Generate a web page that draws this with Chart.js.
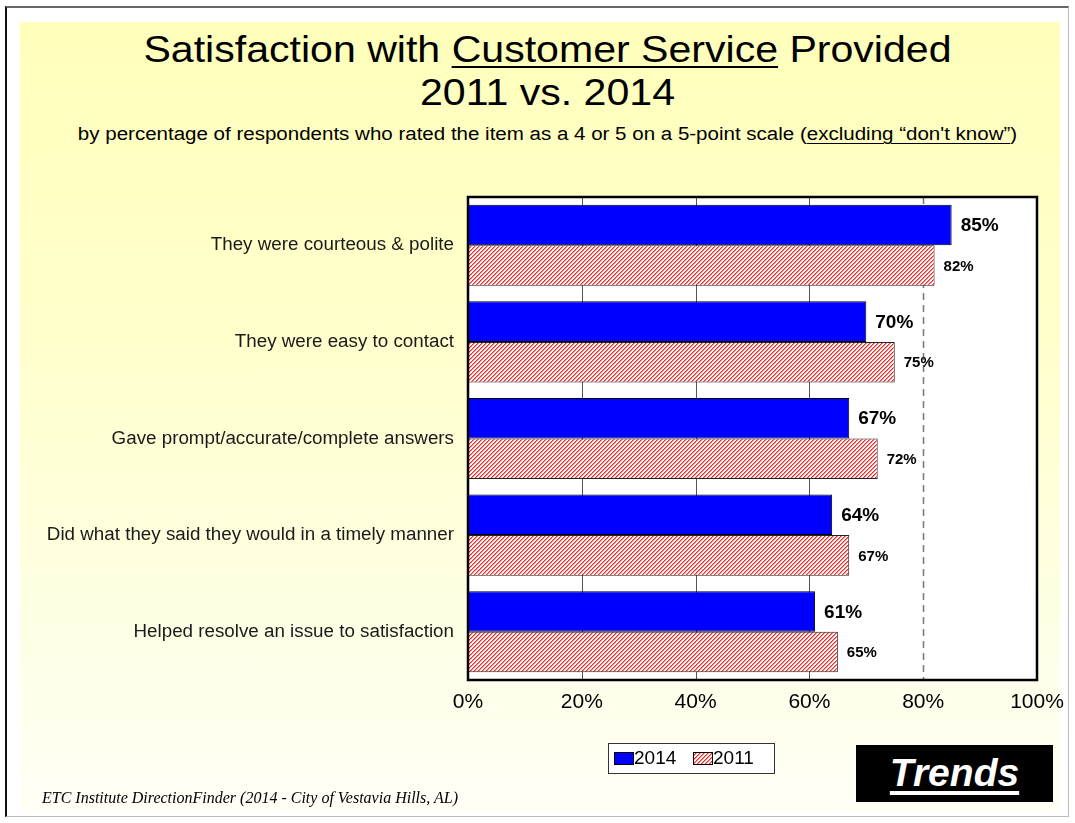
<!DOCTYPE html>
<html>
<head>
<meta charset="utf-8">
<script src="https://cdn.jsdelivr.net/npm/chart.js@4"></script>
<style>
  body { margin: 0; width: 1075px; height: 823px; background: #fff; position: relative; overflow: hidden; font-family: "Liberation Sans", Arial, sans-serif; }
  #frame { position: absolute; left: 5px; top: 6px; width: 1061px; height: 808px; border-left: 2px solid #111; border-top: 2px solid #666; border-right: 1px solid #bbb; border-bottom: 1px solid #bbb; }
  #panel { position: absolute; left: 20px; top: 22px; width: 1040px; height: 790px; background: linear-gradient(to bottom, #ffffbb 0%, #ffffcc 40%, #fffff6 100%); }
  .t { position: absolute; left: 10px; width: 1075px; text-align: center; color: #000; white-space: nowrap; }
  #t1 { top: 29px; font-size: 37px; transform: scaleX(1.11); }
  #t2 { top: 72px; font-size: 37px; transform: scaleX(1.11); }
  #t3 { top: 124px; font-size: 18px; transform: scaleX(1.14); }
  u { text-decoration-thickness: 1px; text-underline-offset: 3px; }
  #t1 u { text-decoration-thickness: 2px; text-underline-offset: 4px; }
  #chart { position: absolute; left: 0; top: 0; }
  #footer { position: absolute; left: 42px; top: 789px; font-family: "Liberation Serif", "Times New Roman", serif; font-style: italic; font-size: 16px; color: #000; }
  #trends { position: absolute; left: 856px; top: 745px; width: 197px; height: 57px; background: #000; color: #fff; font-weight: bold; font-style: italic; font-size: 39px; text-align: center; line-height: 55px; }
  #trends span { text-decoration: underline; text-decoration-thickness: 4px; text-underline-offset: 5px; }
</style>
</head>
<body>
<div id="frame"></div>
<div id="panel"></div>
<div class="t" id="t1">Satisfaction with <u>Customer Service</u> Provided</div>
<div class="t" id="t2">2011 vs. 2014</div>
<div class="t" id="t3">by percentage of respondents who rated the item as a 4 or 5 on a 5-point scale (<u>excluding “don't know”</u>)</div>
<canvas id="chart" width="1075" height="823"></canvas>
<div id="footer">ETC Institute DirectionFinder (2014 - City of Vestavia Hills, AL)</div>
<div id="trends"><span>Trends</span></div>

<script>
// Chart data
const categories = [
  'They were courteous & polite',
  'They were easy to contact',
  'Gave prompt/accurate/complete answers',
  'Did what they said they would in a timely manner',
  'Helped resolve an issue to satisfaction'
];
const values2014 = [85, 70, 67, 64, 61];
const values2011 = [82, 75, 72, 67, 65];
const xTicks = [0, 20, 40, 60, 80, 100];

// red diagonal hatch for the 2011 bars
const makeHatch = () => {
  const c = document.createElement('canvas');
  c.width = 4; c.height = 4;
  const g = c.getContext('2d');
  g.fillStyle = '#fff';
  g.fillRect(0, 0, 4, 4);
  for (let x = 0; x < 4; x++) {
    for (let y = 0; y < 4; y++) {
      const k = (x + y) % 4;
      if (k === 0) { g.fillStyle = '#ff2020'; g.fillRect(x, y, 1, 1); }
      if (k === 1) { g.fillStyle = '#ff8a8a'; g.fillRect(x, y, 1, 1); }
    }
  }
  return g.createPattern(c, 'repeat');
};
const hatch = makeHatch();

// white plot, grid lines, dashed 80% line
const backPlugin = {
  id: 'back',
  beforeDatasetsDraw(chart) {
    const { ctx, chartArea, scales } = chart;
    ctx.save();
    ctx.fillStyle = '#fff';
    ctx.fillRect(chartArea.left, chartArea.top, chartArea.right - chartArea.left, chartArea.bottom - chartArea.top);
    ctx.strokeStyle = '#555';
    ctx.lineWidth = 1;
    [20, 40, 60].forEach(v => {
      const x = Math.round(scales.x.getPixelForValue(v)) + 0.5;
      ctx.beginPath();
      ctx.moveTo(x, chartArea.top);
      ctx.lineTo(x, chartArea.bottom);
      ctx.stroke();
    });
    const x80 = Math.round(scales.x.getPixelForValue(80)) + 0.5;
    ctx.strokeStyle = '#777';
    ctx.lineWidth = 1.5;
    ctx.setLineDash([7, 5]);
    ctx.beginPath();
    ctx.moveTo(x80, chartArea.top);
    ctx.lineTo(x80, chartArea.bottom);
    ctx.stroke();
    ctx.restore();
  }
};

// plot border, value labels, legend box
const decorPlugin = {
  id: 'decor',
  afterDatasetsDraw(chart) {
    const { ctx, chartArea } = chart;
    ctx.save();
    ctx.textBaseline = 'middle';
    ctx.textAlign = 'left';
    ctx.fillStyle = '#000';
    chart.data.datasets.forEach((ds, i) => {
      ctx.font = i === 0 ? 'bold 19px "Liberation Sans", Arial' : 'bold 15px "Liberation Sans", Arial';
      chart.getDatasetMeta(i).data.forEach((el, j) => {
        ctx.fillText(ds.data[j] + '%', el.x + 9, el.y + 1);
      });
    });
    ctx.strokeStyle = '#000';
    ctx.lineWidth = 2.5;
    ctx.strokeRect(chartArea.left, chartArea.top, chartArea.right - chartArea.left, chartArea.bottom - chartArea.top);

    // legend
    const lx = 608, ly = 743, lw = 166, lh = 30;
    ctx.fillStyle = '#fff';
    ctx.fillRect(lx, ly, lw, lh);
    ctx.lineWidth = 1;
    ctx.strokeStyle = '#333';
    ctx.strokeRect(lx + 0.5, ly + 0.5, lw, lh);
    ctx.font = '19px "Liberation Sans", Arial';
    ctx.textBaseline = 'middle';
    const items = [
      { x: 614, fill: chart.data.datasets[0].backgroundColor, label: chart.data.datasets[0].label },
      { x: 693, fill: chart.data.datasets[1].backgroundColor, label: chart.data.datasets[1].label }
    ];
    items.forEach(it => {
      ctx.fillStyle = it.fill;
      ctx.fillRect(it.x, 752, 19, 12);
      ctx.strokeStyle = '#000';
      ctx.strokeRect(it.x + 0.5, 752.5, 19, 12);
      ctx.fillStyle = '#000';
      ctx.fillText(it.label, it.x + 20, 759);
    });
    ctx.restore();
  }
};

new Chart(document.getElementById('chart'), {
  type: 'bar',
  data: {
    labels: categories,
    datasets: [
      {
        label: '2014',
        data: values2014,
        backgroundColor: '#0000ff',
        borderColor: '#000',
        borderWidth: 1,
        borderSkipped: false
      },
      {
        label: '2011',
        data: values2011,
        backgroundColor: hatch,
        borderColor: '#222',
        borderWidth: 1,
        borderSkipped: false
      }
    ]
  },
  options: {
    indexAxis: 'y',
    responsive: false,
    animation: false,
    layout: { padding: { left: 0, top: 197, right: 38, bottom: 103 } },
    plugins: {
      legend: { display: false },
      tooltip: { enabled: false },
      title: { display: false }
    },
    datasets: {
      bar: { categoryPercentage: 0.84, barPercentage: 1 }
    },
    scales: {
      x: {
        min: 0,
        max: 100,
        afterBuildTicks: (scale) => { scale.ticks = xTicks.map(v => ({ value: v })); },
        afterFit: (scale) => { scale.height = 40; },
        ticks: {
          color: '#000',
          padding: 10,
          font: { family: '"Liberation Sans", Arial', size: 21 },
          callback: (v) => v + '%'
        },
        grid: { display: false, drawTicks: false },
        border: { display: false }
      },
      y: {
        afterFit: (scale) => { scale.width = 468; },
        ticks: {
          color: '#1a1a1a',
          padding: 14,
          font: { family: '"Liberation Sans", Arial', size: 18.8 }
        },
        grid: { display: false, drawTicks: false },
        border: { display: false }
      }
    }
  },
  plugins: [backPlugin, decorPlugin]
});
</script>
</body>
</html>
